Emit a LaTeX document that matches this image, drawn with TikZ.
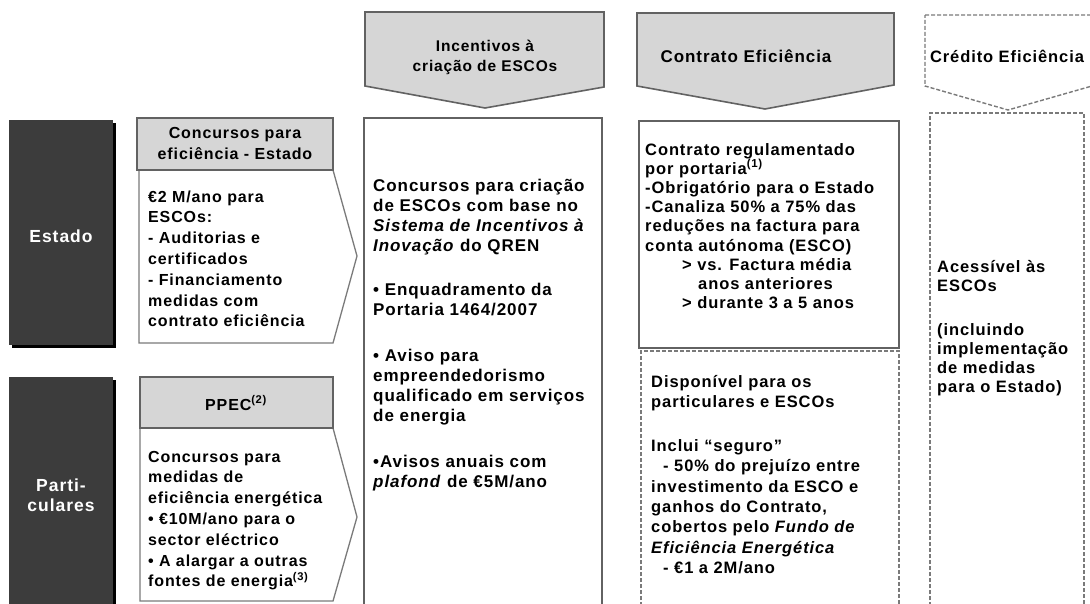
\documentclass[tikz,border=0pt]{standalone}
\usepackage{fontspec}
\setmainfont{Liberation Sans}[LetterSpace=5.5]
\definecolor{darkbox}{HTML}{3C3C3C}
\definecolor{hdrfill}{HTML}{D6D6D6}
\definecolor{edge}{HTML}{626262}
\definecolor{thinedge}{HTML}{7A7A7A}
\begin{document}
\begin{tikzpicture}[x=1pt,y=-1pt,
  hdr/.style={fill=hdrfill,draw=edge,line width=1.6pt,line join=miter},
  dashhdr/.style={draw=thinedge,line width=1.4pt,dash pattern=on 4pt off 2pt},
  solidbox/.style={draw=edge,line width=1.6pt},
  penta/.style={draw=thinedge,line width=1.3pt,fill=white},
  dashbox/.style={draw=thinedge,line width=1.4pt,dash pattern=on 4pt off 2pt},
  shadowbox/.style={fill=black,draw=none},
  darkrect/.style={fill=darkbox,draw=none},
  body/.style={font=\fontsize{16}{20.8}\selectfont\bfseries,align=left,inner sep=0pt,anchor=base west},
  bodyc/.style={font=\fontsize{16.5}{19.2}\selectfont\bfseries,align=left,inner sep=0pt,anchor=base west},
  hdrtext/.style={font=\fontsize{16}{19.5}\selectfont\bfseries,align=center,inner sep=0pt,anchor=base},
  lbl/.style={font=\fontsize{17.5}{20}\selectfont\bfseries,text=white,align=center,inner sep=0pt}
]
\useasboundingbox (0,0) rectangle (1090,603);
\fill[white] (0,0) rectangle (1090,603);

% ---- left dark labels
\path[shadowbox] (12,123) rectangle (116,348);
\path[darkrect] (9,120) rectangle (113,345);
\path[shadowbox] (12,380) rectangle (116,612);
\path[darkrect] (9,377) rectangle (113,612);
\node[lbl] (estado) at (61,236) {Estado};
\node[lbl] (partic) at (61,495) {Parti-\\culares};

% ---- Estado column boxes
\path[penta] (139,170) -- (333,170) -- (357,256) -- (333,343) -- (139,343) -- cycle;
\path[hdr] (137,118) rectangle (333,170);
\node[hdrtext,font=\fontsize{16}{21.5}\selectfont\bfseries] (hestado) at (235,159.5) {Concursos para\\eficiência - Estado};
\node[body] (testado) at (148,326.8) {€2 M/ano para\\ESCOs:\\- Auditorias e\\certificados\\- Financiamento\\medidas com\\contrato eficiência};

% ---- Particulares boxes
\path[penta] (140,428) -- (333,428) -- (357,517) -- (333,601) -- (140,601) -- cycle;
\path[hdr] (140,377) rectangle (333,428);
\node[hdrtext] (hppec) at (236,410) {PPEC\textsuperscript{(2)}};
\node[body] (tppec) at (148,586.8) {Concursos para\\medidas de\\eficiência energética\\• €10M/ano para o\\sector eléctrico\\• A alargar a outras\\fontes de energia\textsuperscript{(3)}};

% ---- Incentivos column
\path[hdr] (365,12) -- (604,12) -- (604,87) -- (485,108) -- (365,86) -- cycle;
\node[hdrtext,font=\fontsize{15.5}{19.5}\selectfont\bfseries] (hinc) at (485,71) {Incentivos à\\criação de ESCOs};
\path[solidbox] (364,612) -- (364,118) -- (602,118) -- (602,612);
\node[body,font=\fontsize{17}{20}\selectfont\bfseries] (tinc) at (373,487) {Concursos para criação\\de ESCOs com base no\\\textit{Sistema de Incentivos à}\\\textit{Inovação} do QREN\\[24pt]• Enquadramento da\\Portaria 1464/2007\\[26pt]• Aviso para\\empreendedorismo\\qualificado em serviços\\de energia\\[26pt]•Avisos anuais com\\\textit{plafond} de €5M/ano};

% ---- Contrato column
\path[hdr] (637,13) -- (894,13) -- (894,85) -- (765,109) -- (637,86) -- cycle;
\node[hdrtext,font=\fontsize{17}{19.5}\selectfont\bfseries] (hcon) at (746,62) {Contrato Eficiência};
\path[solidbox] (639,121) rectangle (899,348);
\node[bodyc] (tcon) at (645,308.6) {Contrato regulamentado\\por portaria\textsuperscript{(1)}\\-Obrigatório para o Estado\\-Canaliza 50\% a 75\% das\\reduções na factura para\\conta autónoma (ESCO)\\\hspace*{37pt}> vs. Factura média\\\hspace*{53pt}anos anteriores\\\hspace*{37pt}> durante 3 a 5 anos};
\path[dashbox] (641,612) -- (641,351) -- (899,351) -- (899,612);
\node[body,font=\fontsize{16.5}{20.4}\selectfont\bfseries] (tseg) at (651,573.7) {Disponível para os\\particulares e ESCOs\\[23.5pt]Inclui “seguro”\\\hspace*{12pt}- 50\% do prejuízo entre\\investimento da ESCO e\\ganhos do Contrato,\\cobertos pelo \textit{Fundo de}\\\textit{Eficiência Energética}\\\hspace*{12pt}- €1 a 2M/ano};

% ---- Credito column
\path[dashhdr] (925,15) -- (1092,15) -- (1092,86) -- (1008,110) -- (925,86) -- cycle;
\node[hdrtext,font=\fontsize{16.5}{19.5}\selectfont\bfseries] (hcred) at (1007,62) {Crédito Eficiência};
\path[dashbox] (930,612) -- (930,113) -- (1084,113) -- (1084,612);
\node[bodyc] (tcred) at (937,392.8) {Acessível às\\ESCOs\\[24.8pt](incluindo\\implementação\\de medidas\\para o Estado)};
\end{tikzpicture}
\end{document}
